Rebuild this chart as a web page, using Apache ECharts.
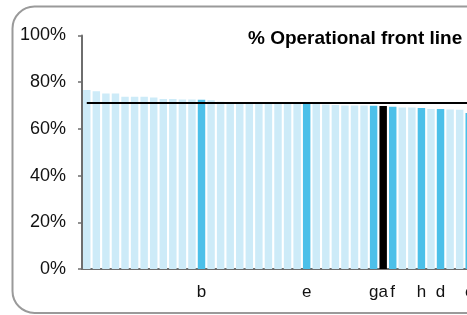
<!DOCTYPE html>
<html>
<head>
<meta charset="utf-8">
<script src="https://cdn.jsdelivr.net/npm/echarts@6/dist/echarts.min.js"></script>
<style>
  html, body { margin: 0; padding: 0; overflow: hidden; background: #fff; }
  #chart { width: 600px; height: 315px; }
</style>
</head>
<body>
<div id="chart"></div>
<script>
// one bar per unit, sorted high to low; only some units get a letter
const labels = ['', '', '', '', '', '', '', '', '', '', '', '', 'b', '', '', '', '', '', '', '', '',
  '', '', 'e', '', '', '', '', '', '', 'g', 'a', 'f', '', '', 'h', '', 'd', '', '', 'c'];
const values = [76.7, 76.1, 75.2, 75.2, 73.8, 73.8, 73.8, 73.4, 72.8, 72.8, 72.6, 72.6, 72.5, 72.3,
  71.6, 71.5, 71.5, 71.4, 71.3, 71.3, 71.2, 71.1, 71.0, 71.0, 70.7, 70.4, 70.2, 70.0, 70.0, 70.0,
  69.9, 69.8, 69.5, 69.2, 69.2, 69.0, 68.5, 68.5, 68.3, 68.2, 66.8];
const average = 71.3;
const highlighted = ['b', 'e', 'g', 'f', 'h', 'd', 'c'];
const selected = 'a';
const yTicks = [0, 20, 40, 60, 80, 100];

const chart = echarts.init(document.getElementById('chart'));

const barData = values.map((v, i) => {
  let color = '#cdebf8';
  if (labels[i] === selected) color = '#000000';
  else if (highlighted.includes(labels[i])) color = '#4cc0e9';
  return { value: v, itemStyle: { color: color } };
});

const option = {
  animation: false,
  textStyle: { fontFamily: 'Liberation Sans, Arial, sans-serif' },
  title: {
    text: '% Operational front line',
    left: 248,
    top: 29,
    padding: 0,
    textStyle: { fontSize: 19, fontWeight: 'bold', color: '#000' }
  },
  graphic: [{
    type: 'rect',
    shape: { x: 12.5, y: 6.5, width: 700, height: 306.5, r: 22 },
    style: { fill: 'none', stroke: '#9a9a9a', lineWidth: 2 },
    silent: true
  }],
  grid: { left: 82, top: 35.5, width: 392, bottom: 46 },
  xAxis: {
    type: 'category',
    data: labels,
    axisLine: { lineStyle: { color: '#6e6e6e', width: 2 } },
    axisTick: { show: false },
    axisLabel: { interval: 0, fontSize: 17, color: '#111', margin: 15 }
  },
  yAxis: {
    type: 'value',
    min: yTicks[0],
    max: yTicks[yTicks.length - 1],
    interval: 20,
    splitLine: { show: false },
    axisLine: { show: true, lineStyle: { color: '#6e6e6e', width: 2 } },
    axisTick: { show: true, length: 4, lineStyle: { color: '#6e6e6e', width: 1.5 } },
    axisLabel: { fontSize: 18, color: '#111', margin: 16, formatter: '{value}%' }
  },
  series: [{
    type: 'bar',
    data: barData,
    barCategoryGap: '22%',
    markLine: {
      symbol: 'none',
      silent: true,
      label: { show: false },
      lineStyle: { color: '#000', width: 2, type: 'solid' },
      data: [[{ coord: [0, average] }, { coord: [labels.length - 1, average] }]]
    }
  }]
};

chart.setOption(option);
</script>
</body>
</html>
